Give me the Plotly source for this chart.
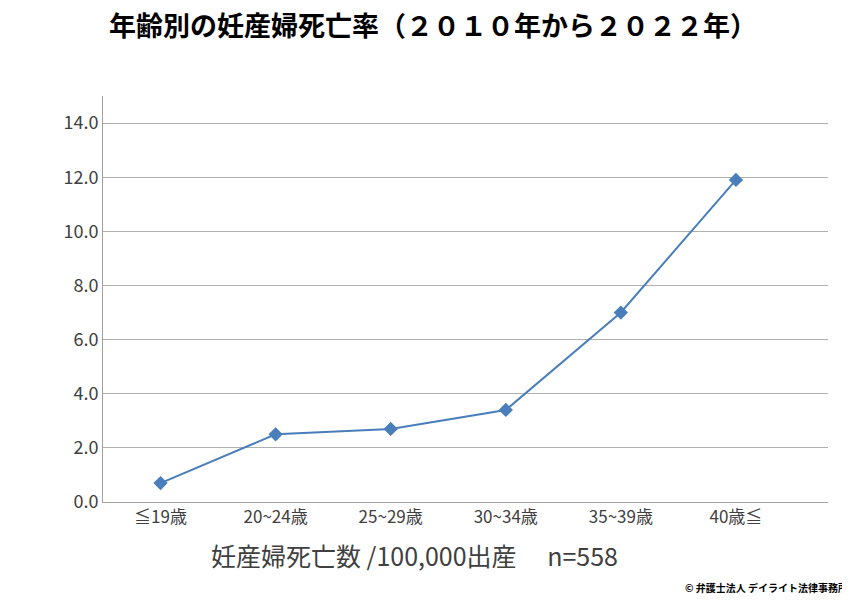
import plotly.graph_objects as go

categories = ["≦19歳", "20~24歳", "25~29歳", "30~34歳", "35~39歳", "40歳≦"]
values = [0.7, 2.5, 2.7, 3.4, 7.0, 11.9]
tick_vals = [0, 2, 4, 6, 8, 10, 12, 14]
tick_text = ["0.0", "2.0", "4.0", "6.0", "8.0", "10.0", "12.0", "14.0"]

fig = go.Figure(go.Scatter(
    x=categories, y=values, mode="lines+markers",
    line=dict(color="#4a7ebb", width=2),
    marker=dict(symbol="diamond", size=11, color="#4a7ebb"),
))
font = "Noto Sans CJK JP"
fig.update_layout(
    width=850, height=600, plot_bgcolor="white", paper_bgcolor="white",
    margin=dict(l=95, r=30, t=88, b=106, autoexpand=False),
    showlegend=False,
    title=dict(text="<b>年齢別の妊産婦死亡率（２０１０年から２０２２年）</b>", x=0.5, xanchor="center",
               y=0.985, yanchor="top", font=dict(family=font, size=27, color="black")),
    font=dict(family=font, color="#404040"),
)
fig.update_xaxes(showline=True, linecolor="#a0a0a0", showgrid=False, ticks="",
                 range=[-0.5, 5.8], tickfont=dict(size=17, color="#404040"))
fig.update_yaxes(range=[0, 15], tickvals=tick_vals, ticktext=tick_text, showgrid=True,
                 gridcolor="#b0b0b0", showline=True, linecolor="#a0a0a0", zeroline=False,
                 tickfont=dict(size=18, color="#404040"), ticks="")
fig.add_annotation(text="妊産婦死亡数 /100,000出産　 n=558", xref="paper", yref="paper",
                   x=0.43, y=-0.13, xanchor="center", yanchor="middle", showarrow=False,
                   font=dict(family=font, size=25, color="#404040"))
fig.add_annotation(text="<b>© 弁護士法人 デイライト法律事務所</b>", xref="paper", yref="paper",
                   x=1.03, y=-0.235, xanchor="right", yanchor="bottom", showarrow=False,
                   font=dict(family=font, size=10, color="black"))
fig.write_html("out.html")
